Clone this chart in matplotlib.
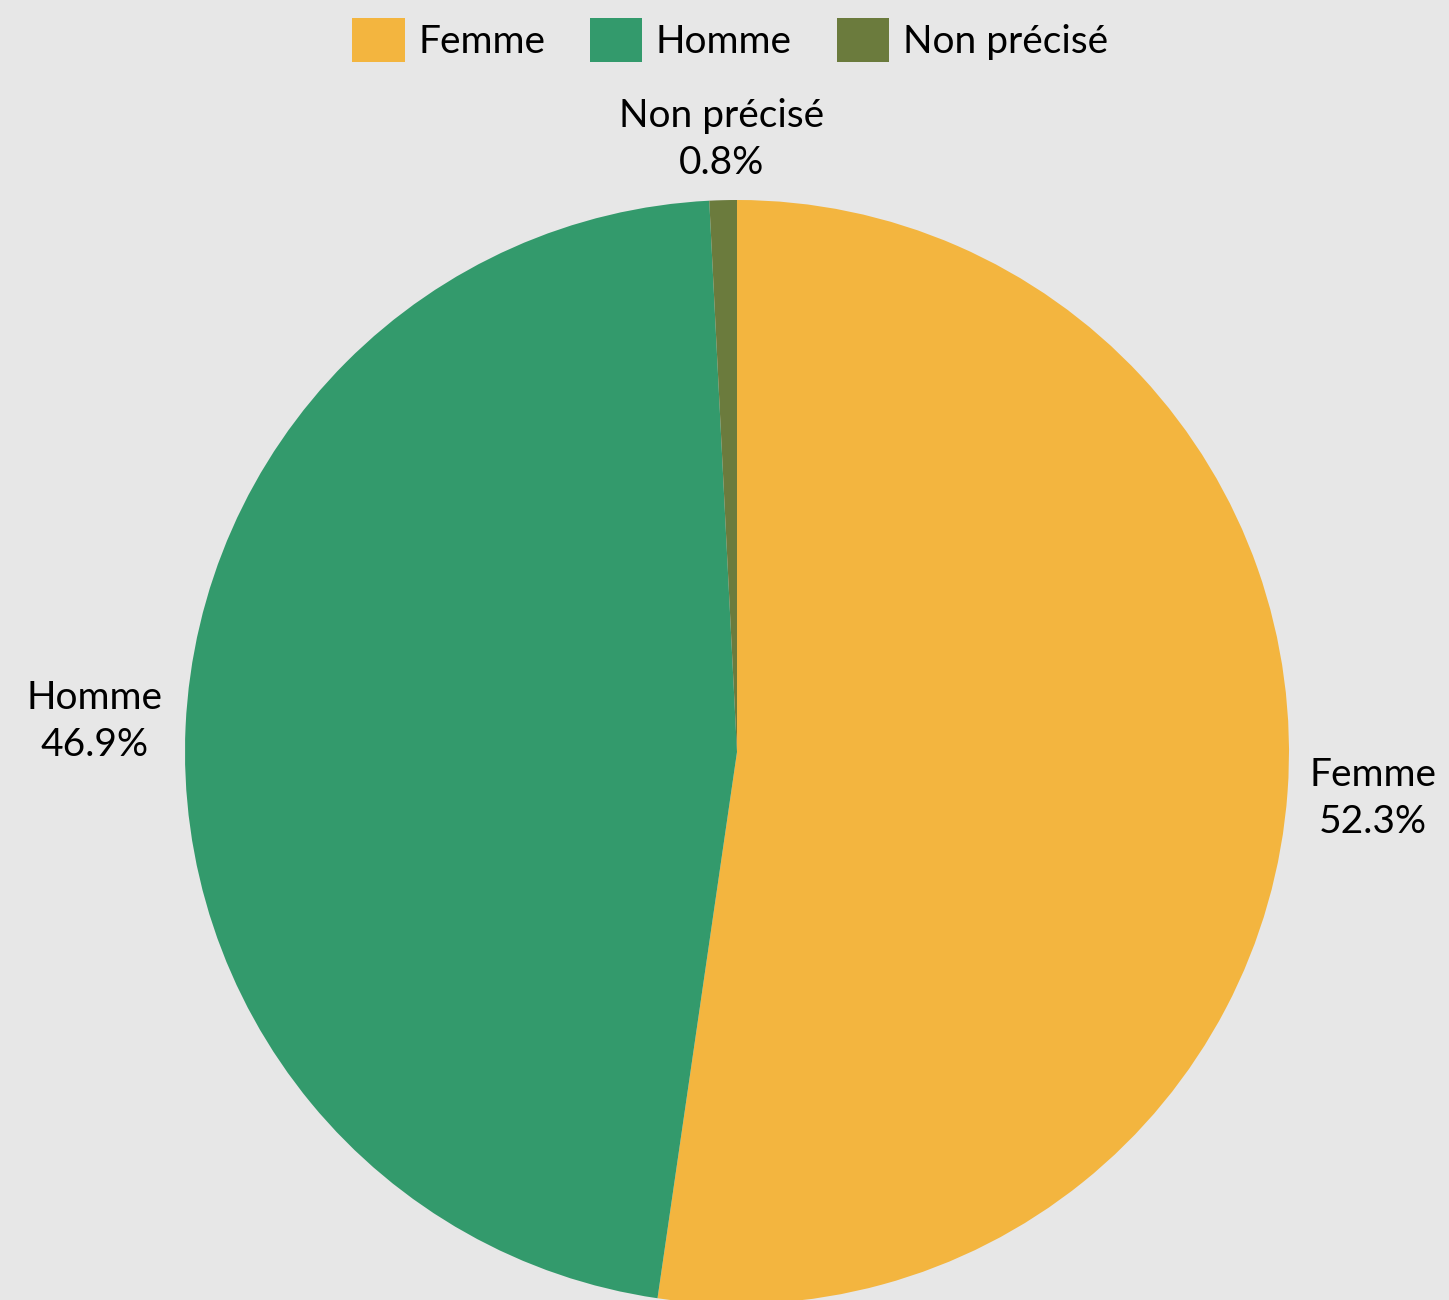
import numpy as np
import matplotlib
matplotlib.use("Agg")
import matplotlib.pyplot as plt
from matplotlib.patches import Patch

categories = ["Femme", "Homme", "Non précisé"]
values = [52.3, 46.9, 0.8]
colors = ["#F3B53F", "#339A6C", "#6B7B3D"]
label_dist = [1.155, 1.165, 1.11]

plt.rcParams['font.family'] = ['Lato', 'DejaVu Sans']
W, H = 1449, 1300
fig = plt.figure(figsize=(W/100, H/100), dpi=100)
bg = "#e7e7e7"
fig.patch.set_facecolor(bg)

cx, cy, r = 737, 752, 552
ax = fig.add_axes([(cx - r)/W, (H - cy - r)/H, 2*r/W, 2*r/H])
ax.set_facecolor(bg)
wedges, _ = ax.pie(values, colors=colors, startangle=90, counterclock=False,
                   radius=1, wedgeprops=dict(linewidth=0))
ax.set_xlim(-1, 1)
ax.set_ylim(-1, 1)
ax.set_aspect('equal')
ax.axis('off')

fs = 28
for w, cat, v, d in zip(wedges, categories, values, label_dist):
    ang = np.deg2rad((w.theta1 + w.theta2) / 2)
    x, y = d*np.cos(ang), d*np.sin(ang)
    ax.text(x, y, f"{cat}\n{v:.1f}%", ha='center', va='center', fontsize=fs,
            color='black', linespacing=1.38, clip_on=False)

handles = [Patch(facecolor=c, edgecolor='none') for c in colors]
fig.legend(handles, categories, loc='center', bbox_to_anchor=(730/W, 1 - 40/H),
           ncol=3, frameon=False, fontsize=fs, handlelength=1.35, handleheight=1.35,
           handletextpad=0.35, columnspacing=1.15)

fig.savefig("out.png", dpi=100, facecolor=bg)
